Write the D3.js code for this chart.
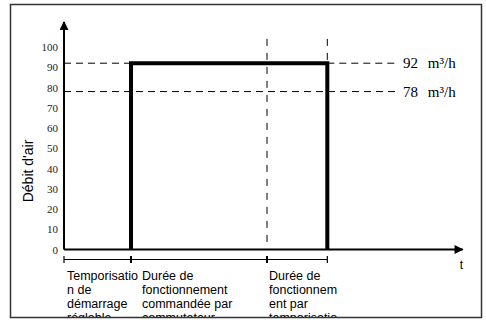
<!DOCTYPE html>
<html>
<head>
<meta charset="utf-8">
<script src="https://cdn.jsdelivr.net/npm/d3@7"></script>
<style>
  body { margin: 0; background: #fff; }
  svg { display: block; }
</style>
</head>
<body>
<script>
// airflow timing chart

let yTicks = [0, 10, 20, 30, 40, 50, 60, 70, 80, 90, 100];
let flowLevels = [92, 78];                  // m³/h
let levelLabels = ["92", "78"];
let phaseBounds = [0, 1, 3.03, 3.93];       // start, on, timer start, off (time units)
let stepTimes = [1, 1, 3.93, 3.93];
let stepValues = [0, 92, 92, 0];
let phaseTexts = [
  ["Temporisatio", "n de", "démarrage", "réglable"],
  ["Durée de", "fonctionnement", "commandée par", "commutateur"],
  ["Durée de", "fonctionnem", "ent par", "temporisatio"]
];

var width = 486, height = 320;

var svg = d3.select("body").append("svg")
    .attr("width", width)
    .attr("height", height);

var x = d3.scaleLinear().domain([0, 6]).range([64, 466]);
var y = d3.scaleLinear().domain([0, 100]).range([249.5, 47]);

var serif = "'Liberation Serif', 'Times New Roman', serif";
var sans = "'Liberation Sans', Arial, sans-serif";

// arrow marker
var defs = svg.append("defs");
defs.append("marker")
    .attr("id", "arrow")
    .attr("viewBox", "0 0 10 10")
    .attr("refX", 9).attr("refY", 5)
    .attr("markerWidth", 10).attr("markerHeight", 9)
    .attr("markerUnits", "userSpaceOnUse")
    .attr("orient", "auto")
  .append("path")
    .attr("d", "M0,0 L10,5 L0,10 Z")
    .attr("fill", "#000");

defs.append("clipPath").attr("id", "frameclip")
  .append("rect").attr("x", 10).attr("y", 4).attr("width", 472).attr("height", 313);

// dashed level lines
svg.append("line")
    .attr("x1", x(0)).attr("x2", x(phaseBounds[1]))
    .attr("y1", y(flowLevels[0])).attr("y2", y(flowLevels[0]))
    .attr("stroke", "#000").attr("stroke-width", 1).attr("stroke-dasharray", "7,5");
svg.append("line")
    .attr("x1", x(phaseBounds[3])).attr("x2", x(4.95))
    .attr("y1", y(flowLevels[0])).attr("y2", y(flowLevels[0]))
    .attr("stroke", "#000").attr("stroke-width", 1).attr("stroke-dasharray", "7,5");
svg.append("line")
    .attr("x1", x(0)).attr("x2", x(4.95))
    .attr("y1", y(flowLevels[1])).attr("y2", y(flowLevels[1]))
    .attr("stroke", "#000").attr("stroke-width", 1).attr("stroke-dasharray", "7,5");

// dashed verticals
[phaseBounds[2], phaseBounds[3]].forEach(function(t) {
  svg.append("line")
      .attr("x1", x(t)).attr("x2", x(t))
      .attr("y1", y(104)).attr("y2", y(0))
      .attr("stroke", "#000").attr("stroke-width", 1).attr("stroke-dasharray", "7,7");
});

// level labels
svg.selectAll("text.level")
    .data(flowLevels)
  .enter().append("text")
    .attr("class", "level")
    .attr("x", x(5.06))
    .attr("y", d => y(d) + 5)
    .attr("font-family", serif).attr("font-size", 15)
    .text((d, i) => levelLabels[i]);
svg.selectAll("text.unit")
    .data(flowLevels)
  .enter().append("text")
    .attr("class", "unit")
    .attr("x", x(5.43))
    .attr("y", d => y(d) + 5)
    .attr("font-family", serif).attr("font-size", 15)
    .text("m³/h");

// axes
svg.append("line")
    .attr("x1", x(0)).attr("x2", x(0))
    .attr("y1", y(0)).attr("y2", 22)
    .attr("stroke", "#000").attr("stroke-width", 2)
    .attr("marker-end", "url(#arrow)");
svg.append("line")
    .attr("x1", x(0)).attr("x2", x(5.95))
    .attr("y1", y(0)).attr("y2", y(0))
    .attr("stroke", "#000").attr("stroke-width", 2)
    .attr("marker-end", "url(#arrow)");

// y tick labels
svg.selectAll("text.ytick")
    .data(yTicks)
  .enter().append("text")
    .attr("class", "ytick")
    .attr("x", 58)
    .attr("y", d => y(d) + 4)
    .attr("text-anchor", "end")
    .attr("font-family", serif).attr("font-size", 11)
    .attr("fill", "#222")
    .text(d => d);

// y label
svg.append("text")
    .attr("transform", "translate(33,171) rotate(-90)")
    .attr("text-anchor", "middle")
    .attr("font-family", sans).attr("font-size", 14)
    .text("Débit d'air");

// x label
svg.append("text")
    .attr("x", x(5.95) - 3).attr("y", 269)
    .attr("font-family", sans).attr("font-size", 12)
    .text("t");

// step line
var pts = stepTimes.map((t, i) => [x(t), y(stepValues[i])]);
svg.append("path")
    .attr("d", d3.line()(pts))
    .attr("fill", "none")
    .attr("stroke", "#000").attr("stroke-width", 4)
    .attr("stroke-linejoin", "miter");

// interval line under axis
svg.append("line")
    .attr("x1", x(phaseBounds[0])).attr("x2", x(phaseBounds[3]))
    .attr("y1", 259.5).attr("y2", 259.5)
    .attr("stroke", "#000").attr("stroke-width", 1.2);
svg.selectAll("line.ptick")
    .data(phaseBounds)
  .enter().append("line")
    .attr("class", "ptick")
    .attr("x1", d => x(d)).attr("x2", d => x(d))
    .attr("y1", 256).attr("y2", 263)
    .attr("stroke", "#000").attr("stroke-width", (d, i) => (i == 1 || i == 2) ? 2 : 1.2);

// phase texts (clipped by the frame, as in the original)
var textOffsets = [3, 11, 2];
var tg = svg.append("g").attr("clip-path", "url(#frameclip)");
phaseTexts.forEach(function(lines, i) {
  var tx0 = x(phaseBounds[i]) + textOffsets[i];
  var tx = tg.append("text")
      .attr("x", tx0)
      .attr("y", 280)
      .attr("font-family", sans).attr("font-size", 12.5);
  lines.forEach(function(l, j) {
    tx.append("tspan")
        .attr("x", tx0)
        .attr("dy", j == 0 ? 0 : 14)
        .text(l);
  });
});

// frame
svg.append("rect")
    .attr("x", 10.5).attr("y", 4.5)
    .attr("width", 471).attr("height", 313)
    .attr("fill", "none")
    .attr("stroke", "#333").attr("stroke-width", 1.5);
</script>
</body>
</html>
